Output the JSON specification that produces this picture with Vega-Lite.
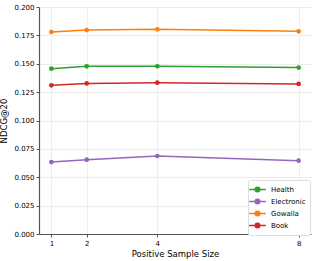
{
  "$schema": "https://vega.github.io/schema/vega-lite/v6.json",
  "width": 272,
  "height": 227,
  "autosize": {"type": "none"},
  "padding": {"left": 39, "top": 7, "right": 6, "bottom": 27},
  "background": "white",
  "config": {
    "font": "DejaVu Sans",
    "view": {"stroke": null},
    "axis": {
      "labelFont": "DejaVu Sans",
      "titleFont": "DejaVu Sans",
      "labelFontSize": 7,
      "titleFontSize": 8.5,
      "titleFontWeight": "normal",
      "labelColor": "#000",
      "titleColor": "#000",
      "gridColor": "#e8e8e8",
      "gridWidth": 0.8,
      "domainColor": "#555",
      "domainWidth": 1.2,
      "tickColor": "#555",
      "tickSize": 3
    }
  },
  "data": {
    "values": [
      {"size": 1, "dataset": "Health", "ndcg": 0.1457},
      {"size": 2, "dataset": "Health", "ndcg": 0.1477},
      {"size": 4, "dataset": "Health", "ndcg": 0.1478},
      {"size": 8, "dataset": "Health", "ndcg": 0.1466},
      {"size": 1, "dataset": "Electronic", "ndcg": 0.0634},
      {"size": 2, "dataset": "Electronic", "ndcg": 0.0655},
      {"size": 4, "dataset": "Electronic", "ndcg": 0.0687},
      {"size": 8, "dataset": "Electronic", "ndcg": 0.0646},
      {"size": 1, "dataset": "Gowalla", "ndcg": 0.178},
      {"size": 2, "dataset": "Gowalla", "ndcg": 0.1797},
      {"size": 4, "dataset": "Gowalla", "ndcg": 0.1803},
      {"size": 8, "dataset": "Gowalla", "ndcg": 0.1786},
      {"size": 1, "dataset": "Book", "ndcg": 0.131},
      {"size": 2, "dataset": "Book", "ndcg": 0.1327},
      {"size": 4, "dataset": "Book", "ndcg": 0.1333},
      {"size": 8, "dataset": "Book", "ndcg": 0.1322}
    ]
  },
  "mark": {"type": "line", "strokeWidth": 1.5, "point": {"size": 22, "filled": true}},
  "encoding": {
    "x": {
      "field": "size",
      "type": "quantitative",
      "scale": {"domain": [0.65, 8.35], "nice": false, "zero": false},
      "axis": {"values": [1, 2, 4, 8], "title": "Positive Sample Size", "titlePadding": 3, "labelPadding": 2}
    },
    "y": {
      "field": "ndcg",
      "type": "quantitative",
      "scale": {"domain": [0, 0.2], "nice": false},
      "axis": {"values": [0, 0.025, 0.05, 0.075, 0.1, 0.125, 0.15, 0.175, 0.2], "format": ".3f", "title": "NDCG@20", "titlePadding": 5, "labelPadding": 2}
    },
    "color": {
      "field": "dataset",
      "type": "nominal",
      "scale": {
        "domain": ["Health", "Electronic", "Gowalla", "Book"],
        "range": ["#2ca02c", "#9467bd", "#ff7f0e", "#d62728"]
      },
      "legend": {
        "title": null,
        "orient": "none",
        "legendX": 209,
        "legendY": 173,
        "symbolType": "M-1.8,0L1.8,0M0.5,0A0.5,0.5 0 1,1 -0.5,0A0.5,0.5 0 1,1 0.5,0Z",
        "symbolStrokeWidth": 1.5,
        "symbolSize": 85,
        "labelFontSize": 7,
        "labelFont": "DejaVu Sans",
        "labelColor": "#000",
        "labelOffset": 8,
        "rowPadding": 1,
        "padding": 4,
        "strokeColor": "#ddd",
        "cornerRadius": 2,
        "fillColor": "white",
        "encode": {
          "symbols": {
            "update": {
              "fill": {"scale": "color", "field": "value"}
            }
          }
        }
      }
    }
  }
}
